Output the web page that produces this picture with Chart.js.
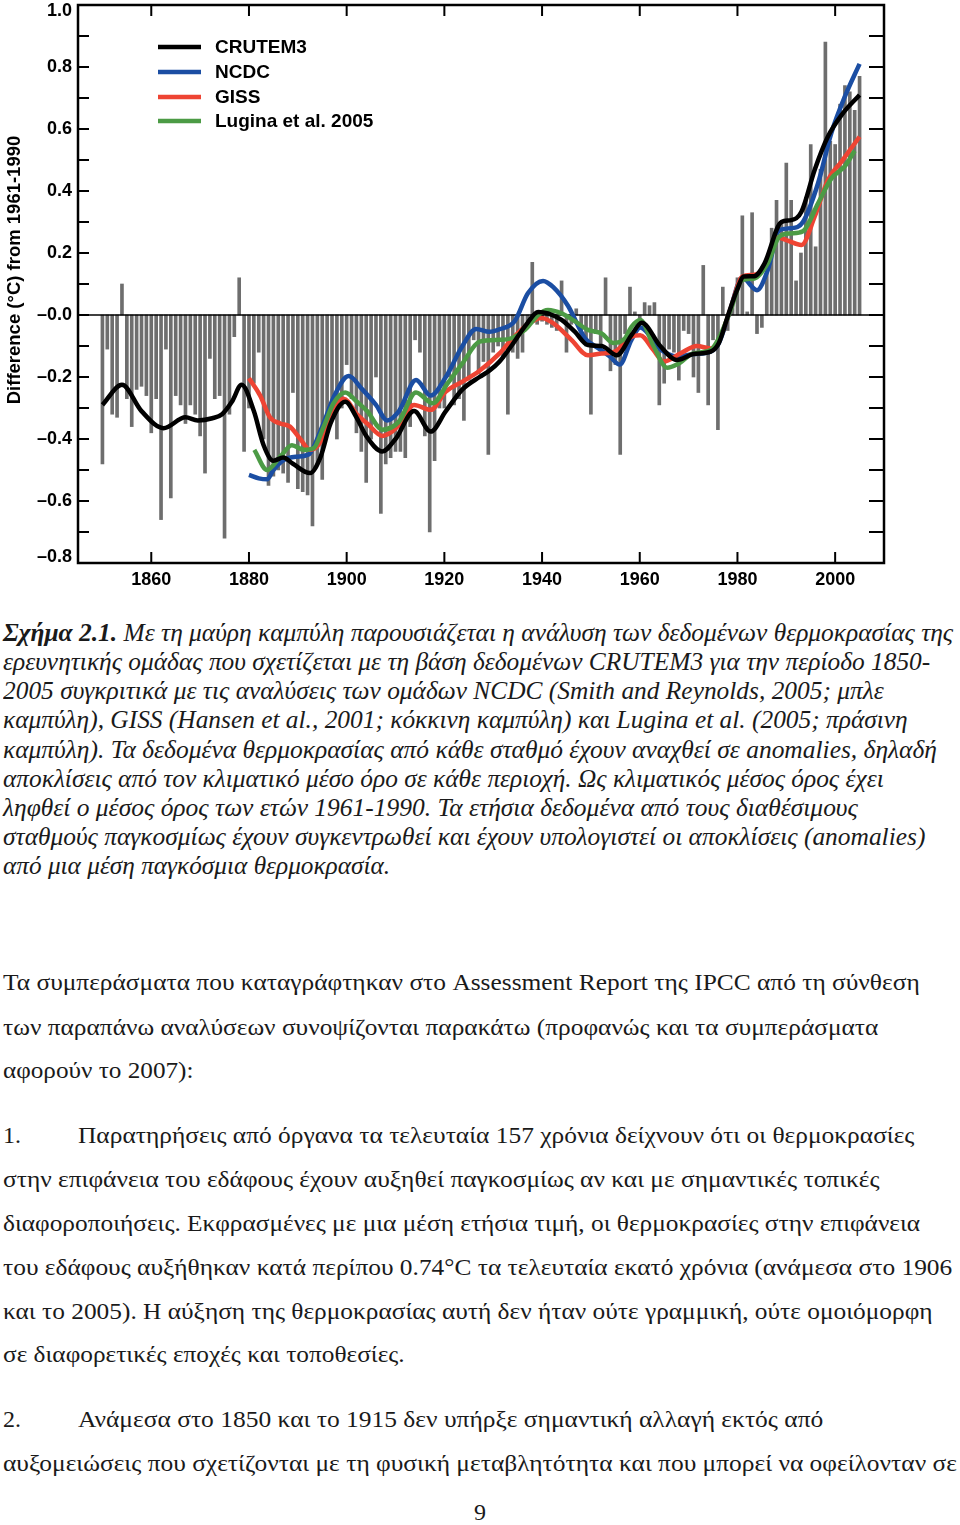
<!DOCTYPE html>
<html>
<head>
<meta charset="utf-8">
<script src="https://cdn.jsdelivr.net/npm/chart.js@4.4.1/dist/chart.umd.min.js"></script>
<style>
  body { margin: 0; background: #fff; width: 960px; height: 1525px; position: relative; overflow: hidden; }
  #chartBox { position: absolute; left: 0; top: 0; width: 960px; height: 600px; }
  .ln { position: absolute; left: 3px; white-space: nowrap; transform-origin: 0 0; color: #1a1a1a;
        font-family: "Liberation Serif", "Times New Roman", serif; font-size: 24px; line-height: 30px; }
  .cap { font-style: italic; font-size: 26px; }
  .num { position: absolute; left: 3px; white-space: nowrap; color: #1a1a1a;
         font-family: "Liberation Serif", "Times New Roman", serif; font-size: 24px; line-height: 30px; }
</style>
</head>
<body>
<div id="chartBox"><canvas id="tempChart" width="960" height="600"></canvas></div>
<div id="text"></div>
<script>
// annual land anomalies, one bar per year from 1850
const firstYear = 1850;
const annualAnomaly = [
  -0.48, -0.11, -0.32, -0.33, 0.10, -0.27, -0.36, -0.24, -0.23, -0.26,
  -0.38, -0.27, -0.66, -0.11, -0.59, -0.26, -0.29, -0.35, -0.29, -0.32,
  -0.39, -0.51, -0.14, -0.27, -0.26, -0.72, -0.32, -0.07, 0.12, -0.44,
  -0.30, -0.22, -0.12, -0.40, -0.55, -0.52, -0.50, -0.51, -0.54, -0.25,
  -0.56, -0.57, -0.58, -0.68, -0.48, -0.53, -0.34, -0.30, -0.40, -0.30,
  -0.16, -0.27, -0.38, -0.44, -0.54, -0.40, -0.20, -0.64, -0.48, -0.46,
  -0.44, -0.44, -0.46, -0.36, -0.08, -0.12, -0.39, -0.70, -0.47, -0.30,
  -0.30, -0.20, -0.29, -0.27, -0.34, -0.21, -0.08, -0.19, -0.15, -0.45,
  -0.12, -0.10, -0.14, -0.32, -0.12, -0.14, -0.12, -0.02, 0.17, -0.03,
  -0.02, -0.03, -0.04, -0.05, 0.11, -0.12, -0.03, 0.02, -0.08, -0.10,
  -0.32, -0.06, -0.10, 0.12, -0.18, -0.16, -0.45, -0.06, 0.09, 0.01,
  -0.02, 0.04, 0.03, 0.04, -0.29, -0.22, -0.11, -0.12, -0.21, -0.05,
  -0.06, -0.20, -0.25, 0.16, -0.29, -0.08, -0.37, 0.09, -0.05, 0.04,
  0.12, 0.32, 0.01, 0.33, -0.06, -0.04, 0.14, 0.28, 0.37, 0.30,
  0.49, 0.37, 0.11, 0.20, 0.38, 0.55, 0.22, 0.47, 0.88, 0.56,
  0.55, 0.68, 0.74, 0.72, 0.66, 0.77
];

// smoothed curves (year, value)
const crutemX = [1850, 1854, 1858, 1862.5, 1867, 1869.5, 1872.5, 1874.5, 1876.5, 1878.5, 1881, 1883, 1885, 1887, 1889, 1892.5, 1894.6, 1896.7, 1899.7, 1902, 1904, 1907.3, 1910, 1913.8, 1917.2, 1920.3, 1923.7, 1927.2, 1929.2, 1931.3, 1933.7, 1936.8, 1939.2, 1941.2, 1944, 1946.7, 1949.4, 1952.2, 1955.3, 1958.3, 1960.4, 1964.2, 1967.6, 1971, 1974.5, 1976.2, 1978.2, 1979.9, 1981.3, 1983.4, 1985.5, 1989, 1991, 1993.1, 1995.8, 1998.5, 2001.3, 2005];
const crutemY = [-0.29, -0.225, -0.31, -0.365, -0.33, -0.34, -0.333, -0.32, -0.28, -0.225, -0.31, -0.42, -0.47, -0.46, -0.48, -0.51, -0.46, -0.35, -0.28, -0.33, -0.39, -0.44, -0.40, -0.31, -0.376, -0.31, -0.24, -0.20, -0.18, -0.15, -0.10, -0.03, 0.01, 0.005, -0.016, -0.054, -0.097, -0.10, -0.13, -0.065, -0.025, -0.10, -0.145, -0.126, -0.118, -0.09, 0.005, 0.08, 0.124, 0.125, 0.165, 0.30, 0.306, 0.333, 0.468, 0.575, 0.645, 0.71];

const ncdcX = [1880, 1882, 1883.7, 1885, 1887.1, 1889.8, 1892.2, 1895, 1897.5, 1900.4, 1903.2, 1906, 1908.3, 1910.7, 1914.2, 1917.2, 1920.3, 1923.7, 1926.5, 1929.2, 1931.3, 1934.4, 1937.1, 1940.2, 1942.3, 1945.3, 1948.8, 1951.5, 1953.9, 1955.9, 1958.3, 1960.1, 1964.2, 1967.6, 1971, 1974.5, 1976.2, 1978.2, 1981, 1984, 1986.2, 1988.6, 1991, 1993.4, 1996.5, 1999.2, 2002, 2005];
const ncdcY = [-0.516, -0.527, -0.53, -0.50, -0.468, -0.457, -0.45, -0.36, -0.26, -0.197, -0.24, -0.29, -0.34, -0.31, -0.21, -0.26, -0.20, -0.10, -0.045, -0.054, -0.046, -0.02, 0.07, 0.11, 0.09, 0.03, -0.075, -0.107, -0.134, -0.16, -0.08, -0.04, -0.11, -0.134, -0.126, -0.118, -0.09, 0.0, 0.12, 0.08, 0.145, 0.274, 0.28, 0.30, 0.425, 0.586, 0.705, 0.81];

const gissX = [1880, 1882.3, 1884.3, 1886.4, 1888.4, 1890.5, 1892.5, 1894.6, 1896.7, 1899.4, 1902.1, 1904.2, 1907.3, 1910.7, 1913.8, 1917.2, 1920.3, 1923.7, 1927.2, 1931.3, 1933.7, 1937.1, 1939.9, 1942.6, 1946, 1949.4, 1952.2, 1954.9, 1958.3, 1960.1, 1962.8, 1964.9, 1968.3, 1971.7, 1974.5, 1976.5, 1978.6, 1981, 1983.5, 1985.5, 1988.3, 1990.3, 1993.1, 1995.8, 1998.5, 2001.3, 2005];
const gissY = [-0.204, -0.26, -0.33, -0.35, -0.36, -0.40, -0.435, -0.41, -0.32, -0.27, -0.32, -0.35, -0.39, -0.355, -0.29, -0.306, -0.247, -0.215, -0.18, -0.124, -0.08, -0.03, -0.01, -0.03, -0.08, -0.13, -0.124, -0.118, -0.07, -0.065, -0.113, -0.15, -0.124, -0.10, -0.108, -0.07, 0.02, 0.124, 0.13, 0.156, 0.25, 0.24, 0.226, 0.317, 0.435, 0.495, 0.575];

const luginaX = [1881.1, 1883.7, 1886.4, 1888.8, 1891.2, 1893.2, 1895.3, 1897.3, 1899.7, 1902.1, 1904.2, 1907.3, 1910.7, 1914.2, 1917.6, 1920.7, 1923.7, 1927.2, 1931.3, 1933.7, 1936.5, 1939.2, 1941.2, 1944, 1946.7, 1949.4, 1952.2, 1954.6, 1957, 1958.3, 1960.1, 1962.8, 1965.6, 1967.6, 1971, 1974.5, 1976.5, 1978.6, 1981, 1983.5, 1986.2, 1988.6, 1991, 1993.4, 1996.5, 1999.2, 2002, 2004];
const luginaY = [-0.435, -0.50, -0.457, -0.42, -0.435, -0.43, -0.36, -0.285, -0.25, -0.28, -0.31, -0.37, -0.344, -0.25, -0.285, -0.22, -0.156, -0.086, -0.08, -0.075, -0.048, 0.0, 0.016, 0.005, -0.02, -0.048, -0.06, -0.09, -0.075, -0.038, -0.016, -0.10, -0.17, -0.16, -0.124, -0.113, -0.065, 0.016, 0.113, 0.118, 0.167, 0.253, 0.263, 0.27, 0.36, 0.44, 0.48, 0.53];

const xTicks = [1860, 1880, 1900, 1920, 1940, 1960, 1980, 2000];
const yTicks = [1.0, 0.8, 0.6, 0.4, 0.2, 0.0, -0.2, -0.4, -0.6, -0.8];
const yTickLabels = ['1.0', '0.8', '0.6', '0.4', '0.2', '\u20130.0', '\u20130.2', '\u20130.4', '\u20130.6', '\u20130.8'];
const yTitle = 'Difference (\u00b0C) from 1961-1990';

const seriesNames = ['CRUTEM3', 'NCDC', 'GISS', 'Lugina et al. 2005'];
const seriesColors = ['#000000', '#1b4ea3', '#ee4433', '#4c9b45'];

const sansFont = '"Liberation Sans", Arial, Helvetica, sans-serif';

function pts(xs, ys) {
  return xs.map((x, i) => ({ x: x, y: ys[i] }));
}

function lineSet(idx, xs, ys, order) {
  return {
    type: 'line',
    label: seriesNames[idx],
    data: pts(xs, ys),
    borderColor: seriesColors[idx],
    borderWidth: 4.5,
    pointRadius: 0,
    cubicInterpolationMode: 'monotone',
    order: order
  };
}

const framePlugin = {
  id: 'frame',
  afterDatasetDraw(chart, args) {
    if (args.meta.type !== 'bar') return;
    const { ctx, chartArea: a, scales: { y } } = chart;
    const y0 = y.getPixelForValue(0);
    ctx.save();
    ctx.strokeStyle = '#000';
    ctx.lineWidth = 1.6;
    ctx.beginPath();
    ctx.moveTo(a.left, y0);
    ctx.lineTo(a.right, y0);
    ctx.stroke();
    ctx.restore();
  },
  afterDraw(chart) {
    const { ctx, chartArea: a, scales: { x, y } } = chart;
    ctx.save();
    ctx.strokeStyle = '#000';
    ctx.lineWidth = 2.5;
    ctx.strokeRect(a.left, a.top, a.right - a.left, a.bottom - a.top);

    // inward tick marks, minor every 0.1
    ctx.lineWidth = 2;
    ctx.beginPath();
    for (let i = 0; i <= 18; i++) {
      const py = y.getPixelForValue(-0.8 + i * 0.1);
      ctx.moveTo(a.left, py); ctx.lineTo(a.left + 11, py);
      ctx.moveTo(a.right, py); ctx.lineTo(a.right - 15, py);
    }
    xTicks.forEach(t => {
      const px = x.getPixelForValue(t);
      ctx.moveTo(px, a.top); ctx.lineTo(px, a.top + 11);
      ctx.moveTo(px, a.bottom); ctx.lineTo(px, a.bottom - 11);
    });
    ctx.stroke();

    // y tick labels (end labels pulled inside like the original)
    ctx.fillStyle = '#000';
    ctx.font = 'bold 18px ' + sansFont;
    ctx.textAlign = 'right';
    ctx.textBaseline = 'middle';
    yTicks.forEach((v, i) => {
      let py = y.getPixelForValue(v);
      py = Math.min(Math.max(py, a.top + 6), a.bottom - 6);
      ctx.fillText(yTickLabels[i], 72, py);
    });

    // legend
    ctx.textAlign = 'left';
    ctx.font = 'bold 19px ' + sansFont;
    const rows = [47, 72, 97, 121];
    chart.data.datasets.forEach(ds => {
      const k = seriesNames.indexOf(ds.label);
      if (k < 0) return;
      ctx.strokeStyle = ds.borderColor;
      ctx.lineWidth = 4.5;
      ctx.beginPath();
      ctx.moveTo(158, rows[k]);
      ctx.lineTo(201, rows[k]);
      ctx.stroke();
      ctx.fillText(ds.label, 215, rows[k] + 1);
    });

    // y axis title
    ctx.font = 'bold 18.5px ' + sansFont;
    ctx.textAlign = 'center';
    ctx.translate(15, 270);
    ctx.rotate(-Math.PI / 2);
    ctx.fillText(yTitle, 0, 0);
    ctx.restore();
  }
};

const ctx = document.getElementById('tempChart').getContext('2d');
const tempChart = new Chart(ctx, {
  type: 'bar',
  data: {
    datasets: [
      lineSet(0, crutemX, crutemY, 1),
      lineSet(1, ncdcX, ncdcY, 4),
      lineSet(2, gissX, gissY, 3),
      lineSet(3, luginaX, luginaY, 2),
      {
        type: 'bar',
        label: 'annual',
        data: annualAnomaly.map((v, i) => ({ x: firstYear + i, y: v })),
        backgroundColor: '#6e6e6e',
        barThickness: 3,
        order: 10
      }
    ]
  },
  options: {
    responsive: false,
    animation: false,
    layout: { padding: { top: 5, right: 76, left: 0, bottom: 0 } },
    plugins: {
      legend: { display: false },
      title: { display: false },
      tooltip: { enabled: false }
    },
    scales: {
      x: {
        type: 'linear',
        min: 1845,
        max: 2010,
        offset: false,
        grid: { display: false, drawTicks: false },
        border: { display: false },
        ticks: {
          color: '#000',
          font: { family: sansFont, size: 18, weight: 'bold' },
          padding: 6,
          maxRotation: 0,
          callback: v => String(v)
        },
        afterBuildTicks: s => { s.ticks = xTicks.map(v => ({ value: v })); },
        afterFit: s => { s.height = 37; }
      },
      y: {
        type: 'linear',
        min: -0.8,
        max: 1.0,
        grid: { display: false, drawTicks: false },
        border: { display: false },
        ticks: { display: false },
        afterBuildTicks: s => { s.ticks = yTicks.map(v => ({ value: v })); },
        afterFit: s => { s.width = 78; }
      }
    }
  },
  plugins: [framePlugin]
});

// caption and body text
const captionLines = [
  ['<b>Σχήμα 2.1.</b> Με τη μαύρη καμπύλη παρουσιάζεται η ανάλυση των δεδομένων θερμοκρασίας της', 636, 950],
  ['ερευνητικής ομάδας που σχετίζεται με τη βάση δεδομένων CRUTEM3 για την περίοδο 1850-', 665, 927],
  ['2005 συγκριτικά με τις αναλύσεις των ομάδων NCDC (Smith and Reynolds, 2005; μπλε', 694, 881],
  ['καμπύλη), GISS (Hansen et al., 2001; κόκκινη καμπύλη) και Lugina et al. (2005; πράσινη', 723, 905],
  ['καμπύλη). Τα δεδομένα θερμοκρασίας από κάθε σταθμό έχουν αναχθεί σε anomalies, δηλαδή', 753, 934],
  ['αποκλίσεις από τον κλιματικό μέσο όρο σε κάθε περιοχή. Ως κλιματικός μέσος όρος έχει', 782, 881],
  ['ληφθεί ο μέσος όρος των ετών 1961-1990. Τα ετήσια δεδομένα από τους διαθέσιμους', 811, 855],
  ['σταθμούς παγκοσμίως έχουν συγκεντρωθεί και έχουν υπολογιστεί οι αποκλίσεις (anomalies)', 840, 922],
  ['από μια μέση παγκόσμια θερμοκρασία.', 869, 387]
];
const bodyLines = [
  ['', 'Τα συμπεράσματα που καταγράφτηκαν στο Assessment Report της IPCC από τη σύνθεση', 985, 917],
  ['', 'των παραπάνω αναλύσεων συνοψίζονται παρακάτω (προφανώς και τα συμπεράσματα', 1030, 875],
  ['', 'αφορούν το 2007):', 1073, 190],
  ['1.', 'Παρατηρήσεις από όργανα τα τελευταία 157 χρόνια δείχνουν ότι οι θερμοκρασίες', 1138, 836],
  ['', 'στην επιφάνεια του εδάφους έχουν αυξηθεί παγκοσμίως αν και με σημαντικές τοπικές', 1182, 877],
  ['', 'διαφοροποιήσεις. Εκφρασμένες με μια μέση ετήσια τιμή, οι θερμοκρασίες στην επιφάνεια', 1226, 917],
  ['', 'του εδάφους αυξήθηκαν κατά περίπου 0.74°C τα τελευταία εκατό χρόνια (ανάμεσα στο 1906', 1270, 949],
  ['', 'και το 2005). Η αύξηση της θερμοκρασίας αυτή δεν ήταν ούτε γραμμική, ούτε ομοιόμορφη', 1314, 930],
  ['', 'σε διαφορετικές εποχές και τοποθεσίες.', 1357, 402],
  ['2.', 'Ανάμεσα στο 1850 και το 1915 δεν υπήρξε σημαντική αλλαγή εκτός από', 1422, 745],
  ['', 'αυξομειώσεις που σχετίζονται με τη φυσική μεταβλητότητα και που μπορεί να οφείλονταν σε', 1466, 954]
];

const textBox = document.getElementById('text');
function fitLine(el, width) {
  const w = el.scrollWidth;
  if (w > 0) el.style.transform = 'scaleX(' + (width / w) + ')';
}
captionLines.forEach(([html, yc, w]) => {
  const d = document.createElement('div');
  d.className = 'ln cap';
  d.innerHTML = html;
  d.style.top = (yc - 18) + 'px';
  textBox.appendChild(d);
  fitLine(d, w);
});
bodyLines.forEach(([num, txt, yc, w]) => {
  const d = document.createElement('div');
  d.className = 'ln';
  d.textContent = txt;
  d.style.top = (yc - 18) + 'px';
  if (num) {
    d.style.left = '78px';
    const n = document.createElement('div');
    n.className = 'num';
    n.textContent = num;
    n.style.top = (yc - 18) + 'px';
    textBox.appendChild(n);
  }
  textBox.appendChild(d);
  fitLine(d, w);
});
const pg = document.createElement('div');
pg.className = 'num';
pg.textContent = '9';
pg.style.left = '474px';
pg.style.top = (1515 - 18) + 'px';
textBox.appendChild(pg);
</script>
</body>
</html>
